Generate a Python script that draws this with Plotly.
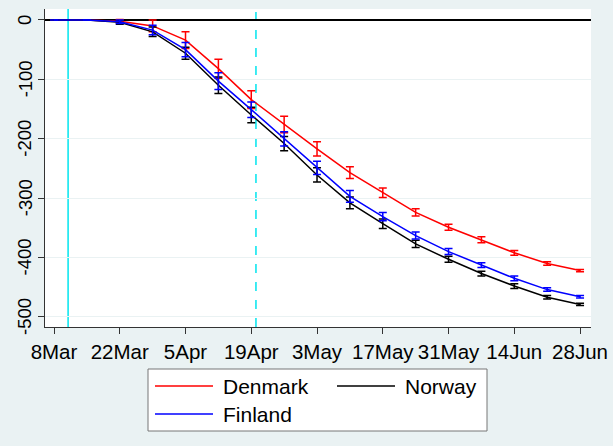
import plotly.graph_objects as go

dates = ["2020-03-08", "2020-03-15", "2020-03-22", "2020-03-29", "2020-04-05",
         "2020-04-12", "2020-04-19", "2020-04-26", "2020-05-03", "2020-05-10",
         "2020-05-17", "2020-05-24", "2020-05-31", "2020-06-07", "2020-06-14",
         "2020-06-21", "2020-06-28"]

denmark = [0, 0, -2, -10, -34, -82, -134, -176, -217, -257, -291, -324, -349, -370, -392, -410, -422]
finland = [0, 0, -3, -17, -50, -103, -151, -200, -249, -297, -331, -363, -390, -413, -435, -454, -466]
norway = [0, 0, -4, -20, -56, -110, -160, -208, -261, -308, -343, -377, -403, -427, -448, -467, -479]

denmark_err = [0, 0, 3, 10, 14, 16, 15, 14, 12, 10, 8, 6, 5, 5, 4, 3, 2]
finland_err = [0, 0, 3, 8, 12, 14, 13, 12, 11, 10, 7, 6, 5, 4, 4, 3, 2]
norway_err = [0, 0, 3, 8, 10, 14, 13, 12, 12, 10, 8, 6, 5, 4, 4, 3, 2]

tick_vals = ["2020-03-08", "2020-03-22", "2020-04-05", "2020-04-19", "2020-05-03",
             "2020-05-17", "2020-05-31", "2020-06-14", "2020-06-28"]
tick_text = ["8Mar", "22Mar", "5Apr", "19Apr", "3May", "17May", "31May", "14Jun", "28Jun"]
y_ticks = [0, -100, -200, -300, -400, -500]

event_solid = "2020-03-11"
event_dashed = "2020-04-20"

series_names = ["Denmark", "Norway", "Finland"]
series_colors = ["#ff0000", "#000000", "#0000ff"]

FONT = "Liberation Sans, Arial, sans-serif"

W, H = 613, 446
ML, MR, MT, MB = 45, 22, 9, 119
PW, PH = W - ML - MR, H - MT - MB


def px_x(px):
    return (px - ML) / PW


def px_y(py):
    return (H - MB - py) / PH


fig = go.Figure()

for name, vals, errs, color in zip(series_names, [denmark, norway, finland],
                                   [denmark_err, norway_err, finland_err], series_colors):
    fig.add_trace(go.Scatter(
        x=dates, y=vals, name=name, mode="lines",
        line=dict(color=color, width=1.5),
        error_y=dict(type="data", array=errs, visible=True, color=color,
                     thickness=1.5, width=4),
        showlegend=False,
    ))

fig.add_shape(type="line", xref="x", yref="paper", x0=event_solid, x1=event_solid,
              y0=0, y1=1, line=dict(color="#00e5ee", width=1.5), layer="below")
fig.add_shape(type="line", xref="x", yref="paper", x0=event_dashed, x1=event_dashed,
              y0=0, y1=1, line=dict(color="#00e5ee", width=1.5, dash="dash"), layer="below")

# y tick labels, rotated like Stata
for v in y_ticks:
    fig.add_annotation(x=px_x(25), xref="paper", y=v, yref="y", text=str(v),
                       textangle=-90, showarrow=False, xanchor="center", yanchor="middle",
                       font=dict(size=18.5, family=FONT, color="#000000"))

# legend box (Stata style)
fig.add_shape(type="rect", xref="paper", yref="paper",
              x0=px_x(148), x1=px_x(487), y0=px_y(369), y1=px_y(431),
              fillcolor="#ffffff", line=dict(color="#777777", width=1))
legend_pos = [(155, 386), (337, 386), (155, 414)]
for name, color, (lx, ly) in zip(series_names, series_colors, legend_pos):
    fig.add_shape(type="line", xref="paper", yref="paper",
                  x0=px_x(lx), x1=px_x(lx + 58), y0=px_y(ly), y1=px_y(ly),
                  line=dict(color=color, width=1.5))
    fig.add_annotation(x=px_x(lx + 66), xref="paper", y=px_y(ly), yref="paper",
                       text=name, showarrow=False, xanchor="left", yanchor="middle",
                       font=dict(size=21, family=FONT, color="#000000"))

fig.update_layout(
    width=W, height=H,
    margin=dict(l=ML, r=MR, t=MT, b=MB),
    paper_bgcolor="#eaf2f3",
    plot_bgcolor="#ffffff",
    font=dict(family=FONT, color="#000000"),
    showlegend=False,
    xaxis=dict(
        type="date",
        range=["2020-03-06 02:00", "2020-06-30 08:00"],
        tickvals=tick_vals, ticktext=tick_text, tickangle=0,
        tickfont=dict(size=20.5),
        showgrid=False, zeroline=False,
        showline=True, linecolor="#333333", linewidth=1,
        ticks="outside", ticklen=6, tickcolor="#333333",
        automargin=False, fixedrange=True,
    ),
    yaxis=dict(
        range=[-517, 18.5],
        tickvals=y_ticks, showticklabels=False,
        showgrid=True, gridcolor="#eaf2f3", gridwidth=1,
        zeroline=True, zerolinecolor="#000000", zerolinewidth=1.5,
        showline=True, linecolor="#333333", linewidth=1,
        ticks="outside", ticklen=6, tickcolor="#333333",
        automargin=False, fixedrange=True,
    ),
)

fig.write_html("out.html", config={"displayModeBar": False},
               post_script="document.body.style.margin='0';document.body.style.padding='0';")
